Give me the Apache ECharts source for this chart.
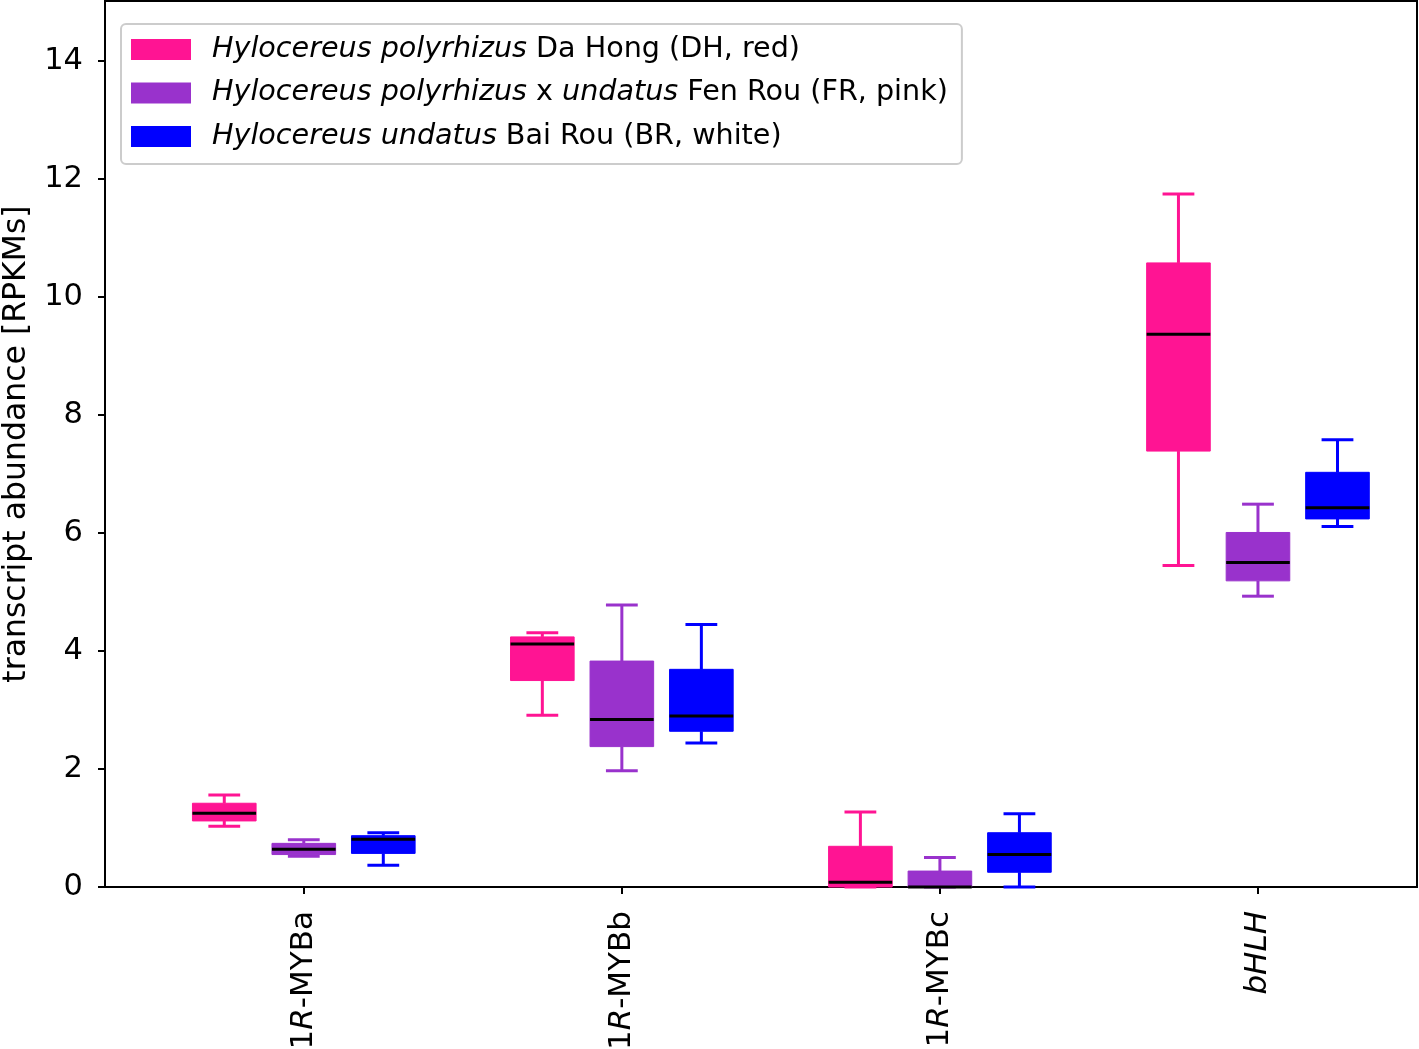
<!DOCTYPE html>
<html>
<head>
<meta charset="utf-8">
<script src="https://cdn.jsdelivr.net/npm/echarts@6/dist/echarts.min.js"></script>
<style>
html,body{margin:0;padding:0;background:#fff;}
#chart{width:1419px;height:1049px;}
</style>
</head>
<body>
<div id="chart"></div>
<script>
// ---- data ----
const categories = ['1R-MYBa', '1R-MYBb', '1R-MYBc', 'bHLH'];
// each entry: [whisker low, Q1, median, Q3, whisker high] per category
const dhStats = [
  [1.03, 1.12, 1.25, 1.42, 1.56],
  [2.91, 3.50, 4.12, 4.24, 4.31],
  [0.00, 0.00, 0.08, 0.69, 1.27],
  [5.45, 7.39, 9.37, 10.58, 11.75]
];
const frStats = [
  [0.52, 0.55, 0.64, 0.74, 0.80],
  [1.97, 2.38, 2.84, 3.83, 4.78],
  [0.00, 0.00, 0.00, 0.27, 0.50],
  [4.93, 5.19, 5.50, 6.01, 6.49]
];
const brStats = [
  [0.37, 0.57, 0.81, 0.87, 0.92],
  [2.44, 2.64, 2.90, 3.69, 4.45],
  [0.00, 0.25, 0.55, 0.92, 1.24],
  [6.11, 6.24, 6.43, 7.03, 7.58]
];
const seriesNames = [
  'Hylocereus polyrhizus Da Hong (DH, red)',
  'Hylocereus polyrhizus x undatus Fen Rou (FR, pink)',
  'Hylocereus undatus Bai Rou (BR, white)'
];
const legendRich = [
  '{s| }{i|Hylocereus polyrhizus}{n| Da Hong (DH, red)}',
  '{s| }{i|Hylocereus polyrhizus}{n| x }{i|undatus}{n| Fen Rou (FR, pink)}',
  '{s| }{i|Hylocereus undatus}{n| Bai Rou (BR, white)}'
];
const xTickLabels = ['1{i|R}-MYBa', '1{i|R}-MYBb', '1{i|R}-MYBc', '{i|bHLH}'];
const yTicks = [0, 2, 4, 6, 8, 10, 12, 14];
const colors = ['#FF1493', '#9932CC', '#0000FF'];

// ---- build ----
const statsList = [dhStats, frStats, brStats];
const groupCenters = categories.map((c, i) => i * 4 + 2);
const FONT = 'DejaVu Sans';

function renderItem(params, api) {
  const x = api.value(0);
  const lo = api.value(1), q1 = api.value(2), med = api.value(3), q3 = api.value(4), hi = api.value(5);
  const w = api.size([0.8, 0])[0];
  const cw = api.size([0.4, 0])[0];
  const pLo = api.coord([x, lo]);
  const pQ1 = api.coord([x, q1]);
  const pMed = api.coord([x, med]);
  const pQ3 = api.coord([x, q3]);
  const pHi = api.coord([x, hi]);
  const color = api.visual('color');
  const cx = pLo[0];
  const ls = {stroke: color, lineWidth: 3, fill: null};
  return {
    type: 'group',
    children: [
      {type: 'line', shape: {x1: cx, y1: pLo[1], x2: cx, y2: pQ1[1]}, style: ls},
      {type: 'line', shape: {x1: cx, y1: pQ3[1], x2: cx, y2: pHi[1]}, style: ls},
      {type: 'line', shape: {x1: cx - cw / 2, y1: pLo[1], x2: cx + cw / 2, y2: pLo[1]}, style: ls},
      {type: 'line', shape: {x1: cx - cw / 2, y1: pHi[1], x2: cx + cw / 2, y2: pHi[1]}, style: ls},
      {type: 'rect', shape: {x: cx - w / 2, y: pQ3[1], width: w, height: pQ1[1] - pQ3[1]},
        style: {fill: color, stroke: color, lineWidth: 1}},
      {type: 'line', shape: {x1: cx - w / 2, y1: pMed[1], x2: cx + w / 2, y2: pMed[1]},
        style: {stroke: '#000', lineWidth: 3}}
    ]
  };
}

const series = statsList.map((stats, si) => ({
  type: 'custom',
  name: seriesNames[si],
  renderItem: renderItem,
  itemStyle: {color: colors[si]},
  encode: {x: 0, y: [1, 2, 3, 4, 5]},
  data: stats.map((s, ci) => [ci * 4 + 1 + si].concat(s)),
  clip: false,
  z: 2
}));

const chart = echarts.init(document.getElementById('chart'), null, {renderer: 'canvas'});
chart.setOption({
  animation: false,
  backgroundColor: '#fff',
  grid: {
    left: 105, right: 2, top: 1, bottom: 162,
    outerBoundsMode: 'none',
    containLabel: false,
    show: true, borderColor: '#000', borderWidth: 2, backgroundColor: 'transparent'
  },
  xAxis: {
    type: 'value',
    min: -0.5, max: 16,
    splitLine: {show: false},
    axisLine: {show: true, onZero: false, lineStyle: {color: '#000', width: 2}},
    axisTick: {show: true, customValues: groupCenters, length: 7, lineStyle: {color: '#000', width: 2}},
    axisLabel: {
      show: true,
      customValues: groupCenters,
      rotate: 90,
      margin: 24,
      color: '#000',
      fontFamily: FONT,
      fontSize: 31,
      formatter: function (v) {
        const idx = groupCenters.indexOf(Math.round(v));
        return idx >= 0 ? xTickLabels[idx] : '';
      },
      rich: {
        i: {fontStyle: 'italic', fontFamily: FONT, fontSize: 31, color: '#000'}
      }
    }
  },
  yAxis: {
    type: 'value',
    min: 0, max: 15.02, interval: 2,
    name: 'transcript abundance [RPKMs]',
    nameLocation: 'middle',
    nameRotate: 90,
    nameGap: 71,
    nameTextStyle: {color: '#000', fontFamily: FONT, fontSize: 31.5},
    splitLine: {show: false},
    axisLine: {show: true, onZero: false, lineStyle: {color: '#000', width: 2}},
    axisTick: {show: true, customValues: yTicks, length: 7, lineStyle: {color: '#000', width: 2}},
    axisLabel: {
      customValues: yTicks,
      margin: 22,
      color: '#000',
      fontFamily: FONT,
      fontSize: 30.5
    }
  },
  legend: {
    orient: 'vertical',
    left: 121, top: 24,
    padding: [11, 14, 13, 10],
    itemWidth: 60, itemHeight: 21,
    itemGap: 14.5,
    icon: 'rect',
    borderColor: '#cccccc', borderWidth: 2, borderRadius: 5,
    backgroundColor: 'rgba(255,255,255,0.8)',
    data: seriesNames,
    formatter: function (name) {
      return legendRich[seriesNames.indexOf(name)];
    },
    textStyle: {
      color: '#000', fontFamily: FONT, fontSize: 28.6, lineHeight: 28,
      rich: {
        s: {width: 16, fontSize: 28.6, fontFamily: FONT},
        i: {fontStyle: 'italic', fontSize: 28.6, fontFamily: FONT, color: '#000'},
        n: {fontSize: 28.6, fontFamily: FONT, color: '#000'}
      }
    }
  },
  series: series
});
</script>
</body>
</html>
